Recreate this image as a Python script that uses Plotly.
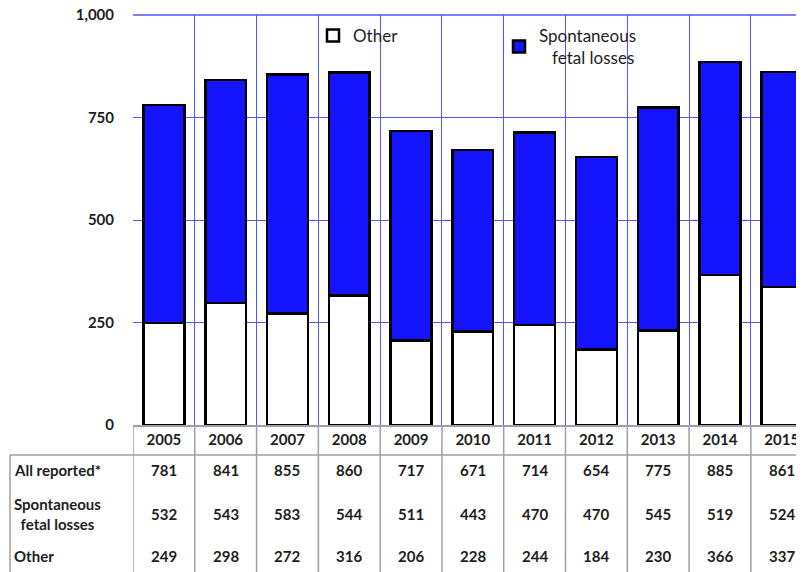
import plotly.graph_objects as go

years = ["2005", "2006", "2007", "2008", "2009", "2010", "2011", "2012", "2013", "2014", "2015"]
all_reported = [781, 841, 855, 860, 717, 671, 714, 654, 775, 885, 861]
spontaneous = [532, 543, 583, 544, 511, 443, 470, 470, 545, 519, 524]
other = [249, 298, 272, 316, 206, 228, 244, 184, 230, 366, 337]
row_labels = ["All reported*", "Spontaneous<br>fetal losses", "Other"]

OFF = 8  # page body margin
W, H = 804 - OFF, 572 - OFF
ML, MT, MB, MR = 133 - OFF, 15 - OFF, 0, 0
PH = H - MT - MB
PW = W - ML - MR


def py(p):
    # reference-pixel y -> paper coordinate
    return (H - MB - (p - OFF)) / PH


def px(p):
    # reference-pixel x -> paper coordinate
    return ((p - OFF) - ML) / PW


FONT = "Lato, 'Open Sans', sans-serif"
BLUE = "rgb(20,20,255)"
GRID = "rgb(85,85,255)"
GREY = "rgb(160,160,160)"
TXT = "rgb(30,30,30)"
FS = 15

fig = go.Figure()
fig.add_trace(go.Bar(x=years, y=other, name="Other",
                     marker=dict(color="white", line=dict(color="black", width=2.5)), width=0.66))
fig.add_trace(go.Bar(x=years, y=spontaneous, name="Spontaneous<br>\u00a0\u00a0\u00a0fetal losses",
                     marker=dict(color=BLUE, line=dict(color="black", width=2.5)), width=0.66))

shapes = []
n = len(years)
for i in range(n + 1):
    shapes.append(dict(type="line", xref="x", yref="paper", x0=i - 0.5, x1=i - 0.5, y0=py(425), y1=py(572),
                       line=dict(color=GREY, width=1.5)))
shapes.append(dict(type="line", xref="paper", yref="paper", x0=px(10), x1=1, y0=py(455), y1=py(455),
                   line=dict(color=GREY, width=1.5)))
shapes.append(dict(type="line", xref="paper", yref="paper", x0=px(10), x1=px(10), y0=py(455), y1=py(572),
                   line=dict(color=GREY, width=1.5)))
# top frame line of the plot area (same colour as the grid)
shapes.append(dict(type="line", xref="paper", yref="y domain", x0=0, x1=1, y0=1, y1=1,
                   line=dict(color=GRID, width=1.5), layer="below"))

annotations = []
row_y = [470, 514, 556]
rows = [all_reported, spontaneous, other]
for ry, vals in zip(row_y, rows):
    for i, v in enumerate(vals):
        annotations.append(dict(x=i, y=py(ry), xref="x", yref="paper", text=f"<b>{v}</b>", showarrow=False,
                                xanchor="center", yanchor="middle",
                                font=dict(family=FONT, size=FS, color=TXT)))
for ry, lab in zip(row_y, row_labels):
    annotations.append(dict(x=px(12), y=py(ry), xref="paper", yref="paper", text=f"<b>{lab}</b>", showarrow=False,
                            xanchor="left", yanchor="middle", align="center",
                            font=dict(family=FONT, size=FS, color=TXT)))

fig.update_layout(
    width=W, height=H,
    margin=dict(l=ML, r=MR, t=MT, b=MB),
    barmode="stack",
    plot_bgcolor="white", paper_bgcolor="white",
    showlegend=True,
    legend=dict(orientation="h", x=px(313), y=py(18), xanchor="left", yanchor="top",
                entrywidth=141, entrywidthmode="pixels", traceorder="normal",
                font=dict(family=FONT, size=17, color=TXT), bgcolor="rgba(0,0,0,0)", itemwidth=30),
    xaxis=dict(type="category", range=[-0.5, 10.36], tickson="boundaries", showgrid=True, gridcolor=GRID,
               gridwidth=1, ticks="", showline=True, linecolor=GREY, linewidth=1.5, automargin=False,
               tickfont=dict(family=FONT, size=FS, color=TXT, weight="bold")),
    yaxis=dict(domain=[py(425), 1], range=[0, 1000], tickvals=[0, 250, 500, 750, 1000], tickformat=",",
               showgrid=True, gridcolor=GRID, gridwidth=1, zeroline=False, ticks="", ticklabelstandoff=18,
               automargin=False, ticklabeloverflow="allow",
               tickfont=dict(family=FONT, size=FS, color=TXT, weight="bold")),
    shapes=shapes,
    annotations=annotations,
)

fig.write_html("out.html")
